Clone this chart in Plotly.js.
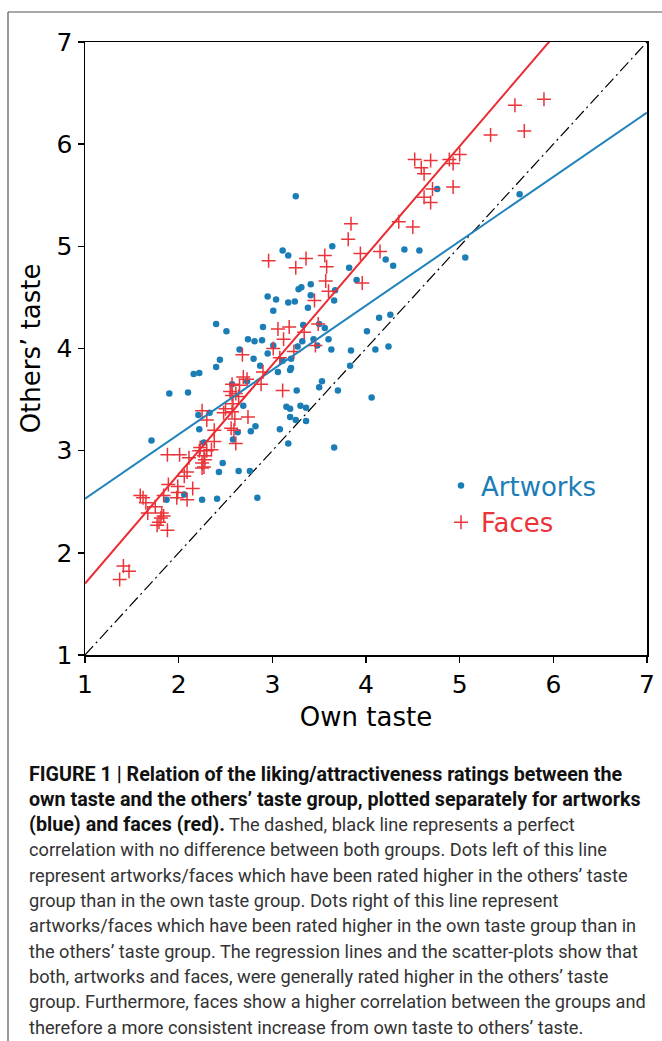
<!DOCTYPE html>
<html>
<head>
<meta charset="utf-8">
<script src="https://cdn.plot.ly/plotly-3.0.1.min.js"></script>
<style>
  html, body { margin: 0; padding: 0; background: #ffffff; }
  #chart { width: 662px; height: 1041px; }
</style>
</head>
<body>
<div id="chart"></div>
<script>
// ---------------- DATA ----------------
const artworksOwn = [3.25,3.64,3.11,3.17,4.21,4.29,3.82,3.90,3.41,3.28,3.31,3.67,2.95,3.04,3.41,3.17,3.24,3.66,3.38,3.01,
  4.14,4.26,2.40,2.51,2.90,3.33,3.50,3.56,4.01,2.74,2.81,2.89,3.32,3.44,3.60,3.01,3.27,3.48,2.65,2.95,
  3.63,3.84,4.10,4.24,2.44,2.80,3.11,3.20,2.40,2.87,3.20,3.83,2.16,2.22,3.06,3.19,1.90,2.10,2.57,2.73,
  3.26,3.50,3.53,3.70,2.69,3.15,3.19,3.30,3.36,3.19,3.25,3.36,4.06,2.21,2.33,1.71,2.22,2.63,2.77,2.82,
  3.08,2.58,3.17,3.66,2.27,2.47,2.43,2.64,2.76,2.06,1.87,2.25,2.41,2.84,4.41,4.57,4.76,5.06,5.64];
const artworksOthers = [5.49,5.00,4.96,4.91,4.87,4.81,4.79,4.67,4.63,4.58,4.60,4.57,4.51,4.48,4.52,4.45,4.46,4.47,4.40,4.37,
  4.30,4.33,4.24,4.17,4.21,4.23,4.24,4.20,4.17,4.09,4.07,4.08,4.07,4.09,4.09,4.03,4.02,4.03,3.99,3.95,
  3.99,3.98,3.99,4.02,3.89,3.90,3.88,3.90,3.82,3.83,3.81,3.83,3.75,3.76,3.77,3.79,3.56,3.57,3.65,3.68,
  3.59,3.62,3.68,3.59,3.44,3.43,3.41,3.44,3.42,3.33,3.30,3.29,3.52,3.35,3.37,3.10,3.21,3.18,3.19,3.24,
  3.21,3.11,3.07,3.03,3.08,2.88,2.79,2.80,2.80,2.57,2.52,2.52,2.53,2.54,4.97,4.96,5.56,4.89,5.51];

const facesOwn = [1.37,1.41,1.47,1.59,1.62,1.65,1.75,1.67,1.82,1.84,1.81,1.79,1.77,1.88,1.84,1.89,1.99,1.99,1.98,2.15,
  2.09,2.09,2.06,1.88,2.01,2.11,2.23,2.22,2.30,2.27,2.28,2.25,2.27,2.25,2.38,2.35,2.38,2.61,2.25,2.30,
  2.60,2.74,2.56,2.59,2.50,2.48,2.57,2.58,2.55,2.61,2.64,2.57,2.57,2.69,2.73,2.65,2.90,2.88,3.11,2.68,
  3.01,3.08,3.23,3.46,3.06,3.18,3.12,3.34,3.49,3.45,3.60,3.57,3.96,2.96,3.25,3.36,3.56,3.58,3.94,4.15,
  3.84,3.81,4.35,4.50,4.62,4.69,4.71,4.93,4.52,4.59,4.62,4.69,4.89,4.93,5.00,5.33,5.59,5.69,5.90];
const facesOthers = [1.74,1.87,1.82,2.56,2.54,2.49,2.45,2.39,2.39,2.36,2.34,2.30,2.27,2.22,2.56,2.67,2.65,2.59,2.54,2.63,
  2.52,2.79,2.75,2.96,2.96,2.93,3.03,3.00,3.00,2.95,2.91,2.88,2.84,2.83,3.09,3.01,3.20,3.07,3.39,3.30,
  3.31,3.33,3.22,3.20,3.41,3.37,3.38,3.46,3.58,3.56,3.53,3.54,3.65,3.72,3.70,3.64,3.77,3.65,3.59,3.94,
  4.00,3.91,3.97,4.03,4.19,4.21,4.09,4.16,4.24,4.47,4.56,4.66,4.64,4.86,4.79,4.88,4.91,4.80,4.93,4.95,
  5.22,5.07,5.24,5.19,5.48,5.43,5.56,5.58,5.85,5.77,5.71,5.84,5.85,5.81,5.90,6.09,6.38,6.13,6.44];

// regression and identity lines (end points)
const fitX = [1, 7];
const artworksFitY = [2.53, 6.31];
const facesFitY = [1.70, 8.12];
const identityY = [1, 7];

const axisTicks = [1, 2, 3, 4, 5, 6, 7];
const legendNames = ['Artworks', 'Faces'];
const axisTitles = {x: 'Own taste', y: 'Others\u2019 taste'};

const captionBold = [
  'FIGURE 1 | Relation of the liking/attractiveness ratings between the',
  'own taste and the others\u2019 taste group, plotted separately for artworks',
  '(blue) and faces (red).'
];
const captionRegular = [
  '',
  '',
  ' The dashed, black line represents a perfect',
  'correlation with no difference between both groups. Dots left of this line',
  'represent artworks/faces which have been rated higher in the others\u2019 taste',
  'group than in the own taste group. Dots right of this line represent',
  'artworks/faces which have been rated higher in the own taste group than in',
  'the others\u2019 taste group. The regression lines and the scatter-plots show that',
  'both, artworks and faces, were generally rated higher in the others\u2019 taste',
  'group. Furthermore, faces show a higher correlation between the groups and',
  'therefore a more consistent increase from own taste to others\u2019 taste.'
];

// ---------------- STYLE / LAYOUT ----------------
const BLUE = '#1b7db6';
const RED = '#ea3439';
const W = 662, H = 1041;
const M = {l: 85, r: 15, t: 42, b: 386};
const pw = W - M.l - M.r, ph = H - M.t - M.b;
const px = v => (v - M.l) / pw;
const py = v => (H - M.b - v) / ph;

const traces = [
  {x: fitX, y: identityY, mode: 'lines', showlegend: false, hoverinfo: 'skip',
   line: {color: '#000', width: 1.2, dash: '12px,4px,2px,4px'}},
  {x: artworksOwn, y: artworksOthers, mode: 'markers', type: 'scatter',
   name: '<span style="color:' + BLUE + '">' + legendNames[0] + '</span>',
   marker: {color: BLUE, size: 6.5, symbol: 'circle'}},
  {x: facesOwn, y: facesOthers, mode: 'markers', type: 'scatter',
   name: '<span style="color:' + RED + '">' + legendNames[1] + '</span>',
   marker: {color: RED, size: 10, symbol: 'cross-thin-open', line: {color: RED, width: 1.5}}},
  {x: fitX, y: artworksFitY, mode: 'lines', showlegend: false, hoverinfo: 'skip',
   line: {color: '#2183bc', width: 2}},
  {x: fitX, y: facesFitY, mode: 'lines', showlegend: false, hoverinfo: 'skip',
   line: {color: '#ec2b31', width: 2}}
];

const FONT = 'DejaVu Sans, Verdana, sans-serif';
const CAPFONT = 'Roboto, Liberation Sans Narrow, sans-serif';

const annotations = captionRegular.map((t, i) => {
  let txt = '';
  if (captionBold[i]) txt += '<span style="font-size:19.7px;font-weight:bold;fill:#111">' + captionBold[i] + '</span>';
  if (t) txt += t;
  return {
    text: txt, xref: 'paper', yref: 'paper', x: px(27), y: py(774 + i * 25.3),
    xanchor: 'left', yanchor: 'middle', showarrow: false, align: 'left',
    font: {family: CAPFONT, size: 18.2, color: '#333'}
  };
});

const layout = {
  width: W, height: H,
  margin: M,
  paper_bgcolor: '#fff', plot_bgcolor: '#fff',
  font: {family: FONT, color: '#000'},
  showlegend: true,
  legend: {x: px(441), y: py(462), xanchor: 'left', yanchor: 'top',
           font: {family: FONT, size: 26}, bgcolor: 'rgba(0,0,0,0)', itemwidth: 30,
           tracegroupgap: 0},
  xaxis: {range: [1, 7], tickvals: axisTicks, ticktext: axisTicks.map(String),
          showgrid: false, zeroline: false, showline: true, linecolor: '#000', linewidth: 1.5,
          mirror: true, ticks: 'outside', ticklen: 6, tickwidth: 1.5, tickcolor: '#000',
          tickfont: {family: FONT, size: 25},
          title: {text: axisTitles.x, font: {family: FONT, size: 26}, standoff: 10}},
  yaxis: {range: [1, 7], tickvals: axisTicks, ticktext: axisTicks.map(String),
          showgrid: false, zeroline: false, showline: true, linecolor: '#000', linewidth: 1.5,
          mirror: true, ticks: 'outside', ticklen: 6, tickwidth: 1.5, tickcolor: '#000',
          tickfont: {family: FONT, size: 25},
          title: {text: axisTitles.y, font: {family: FONT, size: 26}, standoff: 8}},
  shapes: [
    {type: 'line', xref: 'paper', yref: 'paper', x0: px(8), x1: px(662), y0: py(12), y1: py(12),
     line: {color: '#555', width: 1.2}},
    {type: 'line', xref: 'paper', yref: 'paper', x0: px(8), x1: px(8), y0: py(12), y1: py(1041),
     line: {color: '#555', width: 1.2}}
  ],
  annotations: annotations
};

Plotly.newPlot('chart', traces, layout, {displayModeBar: false, staticPlot: true});
</script>
</body>
</html>
